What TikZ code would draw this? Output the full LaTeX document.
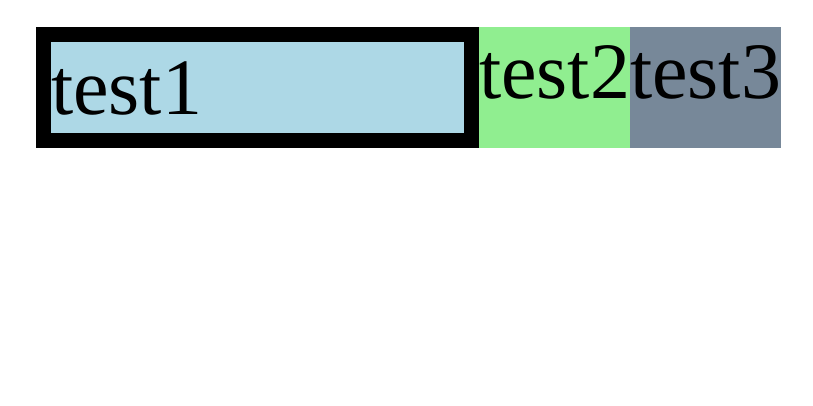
\documentclass[tikz,border=0pt]{standalone}
\usepackage{fontspec}
\setmainfont{Liberation Serif}
\definecolor{lblue}{HTML}{ADD8E6}
\definecolor{lgreen}{HTML}{90EE90}
\definecolor{sgray}{HTML}{778899}
\begin{document}
\begin{tikzpicture}[x=1pt,y=-1pt,
  lbl/.style={inner sep=0pt,outer sep=0pt,anchor=base west,font=\fontsize{80}{96}\selectfont}]
\useasboundingbox (0,0) rectangle (813,405);
\fill[white] (0,0) rectangle (813,405);
% box 1 with thick black border
\fill[black] (36,27) rectangle (479,147.5);
\fill[lblue] (51,42) rectangle (464,132.5);
% box 2 and 3
\fill[lgreen] (479,27) rectangle (630,147.5);
\fill[sgray] (630,27) rectangle (780.5,147.5);
\node[lbl] (t1) at (51,114) {test1};
\node[lbl] (t2) at (479,98.3) {test2};
\node[lbl] (t3) at (630,98.3) {test3};
\end{tikzpicture}
\end{document}
